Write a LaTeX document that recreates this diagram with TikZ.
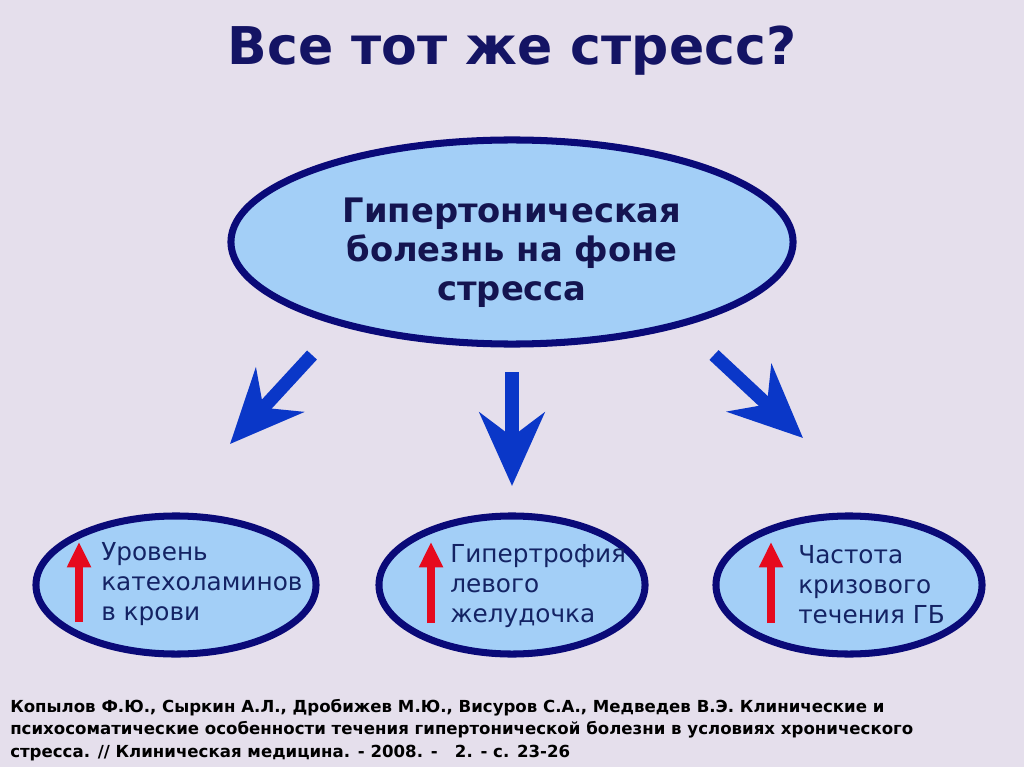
\documentclass[tikz,border=0pt]{standalone}
\usepackage{fontspec}
\setmainfont{DejaVu Sans}
\usetikzlibrary{shapes.geometric,arrows.meta,positioning}

\definecolor{bgcol}{RGB}{229,223,236}
\definecolor{navyline}{RGB}{10,10,120}
\definecolor{skyfill}{RGB}{163,207,247}
\definecolor{titletxt}{RGB}{20,20,100}
\definecolor{maintxt}{RGB}{20,20,80}
\definecolor{smalltxt}{RGB}{20,35,100}
\definecolor{arrowblue}{RGB}{10,55,200}
\definecolor{arrowred}{RGB}{230,10,30}

\begin{document}
\begin{tikzpicture}[x=0.025cm, y=-0.025cm,
  oval/.style={ellipse, draw=navyline, line width=5pt, fill=skyfill, inner sep=0pt},
  bigarrow/.style={-{Stealth[length=52pt, width=46pt, inset=17pt]}, line width=9.5pt, draw=arrowblue},
  redarrow/.style={-{Triangle[length=18pt, width=16pt]}, line width=5pt, draw=arrowred},
  smalltext/.style={anchor=base west, align=left, inner sep=0pt, text=smalltxt,
    font=\fontsize{17.6}{21.3}\selectfont}]
\fill[bgcol] (0,0) rectangle (1024,767);
\useasboundingbox (0,0) rectangle (1024,767);

\node[anchor=base, text=titletxt, font=\fontsize{37}{44}\selectfont\bfseries] (title) at (512,65) {Все тот же стресс?};

% main ellipse
\node[oval, minimum width=14.05cm, minimum height=5.1cm] (main) at (512,242) {};
\node[anchor=base, text=maintxt, align=center, inner sep=0pt,
  font=\fontsize{24}{27.5}\selectfont\bfseries] (maintext) at (512,300) {Гипертоническая\\болезнь на фоне\\стресса};

% lower ellipses
\node[oval, minimum width=7.0cm, minimum height=3.45cm] (lvl) at (176,585) {};
\node[oval, minimum width=6.65cm, minimum height=3.45cm] (hyp) at (512,585) {};
\node[oval, minimum width=6.65cm, minimum height=3.45cm] (freq) at (849,585) {};

\node[smalltext] (lvltext) at (101,620) {Уровень\\катехоламинов\\в крови};
\node[smalltext] (hyptext) at (450,622) {Гипертрофия\\левого\\желудочка};
\node[smalltext] (freqtext) at (798,623) {Частота\\кризового\\течения ГБ};

% blue arrows
\coordinate (ls) at (312,355);
\coordinate (le) at (230,444);
\coordinate (ms) at (512,372);
\coordinate (me) at (512,486);
\coordinate (rs) at (714,355);
\coordinate (re) at (803,438);
\draw[bigarrow] (ls) -- (le);
\draw[bigarrow] (ms) -- (me);
\draw[bigarrow] (rs) -- (re);

% red arrows
\coordinate (lb) at (79,622);
\coordinate (lt) at (79,542);
\coordinate (mb) at (431,623);
\coordinate (mt) at (431,542);
\coordinate (rb) at (771,623);
\coordinate (rt) at (771,542);
\draw[redarrow] (lb) -- (lt);
\draw[redarrow] (mb) -- (mt);
\draw[redarrow] (rb) -- (rt);

% reference
\node[anchor=base west, align=left, inner sep=0pt, text=black,
  font=\fontsize{11.8}{15.8}\selectfont\bfseries] (ref) at (10,757)
  {Копылов Ф.Ю., Сыркин А.Л., Дробижев М.Ю., Висуров С.А., Медведев В.Э. Клинические и\\
   психосоматические особенности течения гипертонической болезни в условиях хронического\\
   стресса. // Клиническая медицина. - 2008. -\ \ \ 2. - с. 23-26};
\end{tikzpicture}
\end{document}
